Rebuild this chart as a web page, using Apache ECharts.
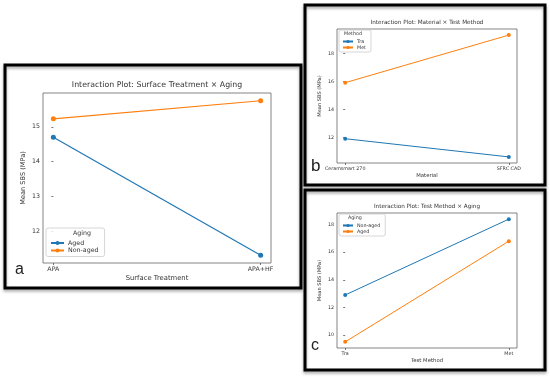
<!DOCTYPE html>
<html>
<head>
<meta charset="utf-8">
<script src="https://cdn.jsdelivr.net/npm/echarts@6/dist/echarts.min.js"></script>
<style>html,body{margin:0;padding:0;background:#fff}#c{width:550px;height:377px}</style>
</head>
<body>
<div id="c"></div>
<script>
// Panel a: Surface Treatment x Aging
const categoriesA = ['APA', 'APA+HF'];
const agedA = [14.7, 11.3];
const nonAgedA = [15.23, 15.75];
const yTicksA = [12, 13, 14, 15];
// Panel b: Material x Test Method
const categoriesB = ['Ceramsmart 270', 'SFRC CAD'];
const traB = [11.9, 10.6];
const metB = [15.9, 19.3];
const yTicksB = [12, 14, 16, 18];
// Panel c: Test Method x Aging
const categoriesC = ['Tra', 'Met'];
const nonAgedC = [12.9, 18.4];
const agedC = [9.5, 16.8];
const yTicksC = [10, 12, 14, 16, 18];

const BLUE = '#1f77b4', ORANGE = '#ff7f0e';
const FONT = 'DejaVu Sans';

function limits(arrs) {
  const all = [].concat(...arrs);
  const lo = Math.min(...all), hi = Math.max(...all);
  const m = (hi - lo) * 0.05;
  return [lo - m, hi + m];
}

const panels = [
  { cats: categoriesA, ticks: yTicksA, s: [['a|Aged', agedA, BLUE], ['a|Non-aged', nonAgedA, ORANGE]],
    grid: { left: 43, top: 93, width: 228, height: 170 }, fs: 6.3, title: 'Interaction Plot: Surface Treatment \u00d7 Aging', tfs: 7.8,
    xname: 'Surface Treatment', yname: 'Mean SBS (MPa)', sym: 5, lw: 1.2, yGap: 16, xGap: 12,
    legend: { left: 46, top: 228, title: 'Aging', fs: 6.3, iw: 13, pad: [12, 6, 3, 4], gap: 1.5 } },
  { cats: categoriesB, ticks: yTicksB, s: [['b|Tra', traB, BLUE], ['b|Met', metB, ORANGE]],
    grid: { left: 337, top: 29, width: 180, height: 134 }, fs: 4.8, title: 'Interaction Plot: Material \u00d7 Test Method', tfs: 5.7,
    xname: 'Material', yname: 'Mean SBS (MPa)', sym: 4, lw: 1.0, yGap: 15, xGap: 10,
    legend: { left: 339, top: 30, title: 'Method', fs: 4.8, iw: 10, pad: [9, 5, 2, 3], gap: 1 } },
  { cats: categoriesC, ticks: yTicksC, s: [['c|Non-aged', nonAgedC, BLUE], ['c|Aged', agedC, ORANGE]],
    grid: { left: 337, top: 213, width: 180, height: 135 }, fs: 4.8, title: 'Interaction Plot: Test Method \u00d7 Aging', tfs: 5.7,
    xname: 'Test Method', yname: 'Mean SBS (MPa)', sym: 4, lw: 1.0, yGap: 15, xGap: 10,
    legend: { left: 339, top: 214, title: 'Aging', fs: 4.8, iw: 10, pad: [9, 5, 2, 3], gap: 1 } }
];

const grids = [], xAxes = [], yAxes = [], series = [], legends = [], titles = [];
panels.forEach((p, i) => {
  grids.push(Object.assign({ show: true, borderColor: '#666', borderWidth: 0.8, backgroundColor: '#fff' }, p.grid));
  const lim = limits(p.s.map(s => s[1]));
  xAxes.push({
    type: 'value', gridIndex: i, min: -0.05, max: 1.05,
    name: p.xname, nameLocation: 'middle', nameGap: p.xGap,
    nameTextStyle: { fontFamily: FONT, fontSize: p.fs + 0.5, color: '#333' },
    axisLine: { show: false },
    axisTick: { show: true, length: 2, lineStyle: { color: '#555', width: 0.8 }, customValues: [0, 1] },
    axisLabel: { fontFamily: FONT, fontSize: p.fs, color: '#333', margin: 3, customValues: [0, 1],
      formatter: v => p.cats[Math.round(v)] },
    splitLine: { show: false }
  });
  yAxes.push({
    type: 'value', gridIndex: i, min: lim[0], max: lim[1],
    name: p.yname, nameLocation: 'middle', nameGap: p.yGap,
    nameTextStyle: { fontFamily: FONT, fontSize: p.fs + 0.3, color: '#333' },
    axisLine: { show: false },
    axisTick: { show: true, length: 2, lineStyle: { color: '#555', width: 0.8 }, customValues: p.ticks },
    axisLabel: { fontFamily: FONT, fontSize: p.fs, color: '#333', margin: 3, customValues: p.ticks, hideOverlap: false },
    splitLine: { show: false }
  });
  p.s.forEach(s => {
    series.push({
      name: s[0], type: 'line', xAxisIndex: i, yAxisIndex: i,
      data: p.cats.map((c, k) => [k, s[1][k]]),
      symbol: 'circle', symbolSize: p.sym, color: s[2],
      lineStyle: { width: p.lw, color: s[2] }, itemStyle: { color: s[2] },
      emphasis: { disabled: true }, animation: false
    });
  });
  legends.push({
    data: p.s.map(s => s[0]), orient: 'vertical', left: p.legend.left, top: p.legend.top,
    padding: p.legend.pad, itemGap: p.legend.gap, itemWidth: p.legend.iw, itemHeight: p.sym,
    borderColor: '#ccc', borderWidth: 0.8, borderRadius: 2, backgroundColor: 'rgba(255,255,255,0.8)',
    formatter: n => n.split('|')[1],
    textStyle: { fontFamily: FONT, fontSize: p.legend.fs, color: '#333', padding: [0, 0, 0, -1] },
    selectedMode: false
  });
  titles.push({
    text: p.title, left: p.grid.left + p.grid.width / 2, top: p.grid.top - p.tfs - 4, textAlign: 'center',
    textStyle: { fontFamily: FONT, fontSize: p.tfs, fontWeight: 'normal', color: '#333' }, padding: 0
  });
});

const chart = echarts.init(document.getElementById('c'), null, { renderer: 'canvas' });
chart.setOption({
  backgroundColor: '#fff',
  animation: false,
  title: titles,
  grid: grids, xAxis: xAxes, yAxis: yAxes, series: series, legend: legends,
  graphic: [
    { type: 'rect', shape: { x: 5, y: 65, width: 296, height: 223 }, style: { fill: 'none', stroke: '#000', lineWidth: 3, shadowBlur: 3, shadowOffsetY: 2, shadowColor: 'rgba(0,0,0,0.35)' }, z: 100 },
    { type: 'rect', shape: { x: 305, y: 5, width: 240, height: 180 }, style: { fill: 'none', stroke: '#000', lineWidth: 3, shadowBlur: 3, shadowOffsetY: 2, shadowColor: 'rgba(0,0,0,0.35)' }, z: 100 },
    { type: 'rect', shape: { x: 305, y: 190, width: 240, height: 180 }, style: { fill: 'none', stroke: '#000', lineWidth: 3, shadowBlur: 3, shadowOffsetY: 2, shadowColor: 'rgba(0,0,0,0.35)' }, z: 100 },
    { type: 'text', left: 15, top: 262, style: { text: 'a', font: '16px "Liberation Sans", Arial', fill: '#222' }, z: 100 },
    { type: 'text', left: 311, top: 158, style: { text: 'b', font: '17px "Liberation Sans", Arial', fill: '#222' }, z: 100 },
    { type: 'text', left: 311, top: 338, style: { text: 'c', font: '16px "Liberation Sans", Arial', fill: '#222' }, z: 100 },
    { type: 'text', left: 82 - 9, top: 230, style: { text: 'Aging', font: '6.3px "DejaVu Sans"', fill: '#333' }, z: 100 },
    { type: 'text', left: 344, top: 31, style: { text: 'Method', font: '4.8px "DejaVu Sans"', fill: '#333' }, z: 100 },
    { type: 'text', left: 348, top: 215, style: { text: 'Aging', font: '4.8px "DejaVu Sans"', fill: '#333' }, z: 100 }
  ]
});
</script>
</body>
</html>
